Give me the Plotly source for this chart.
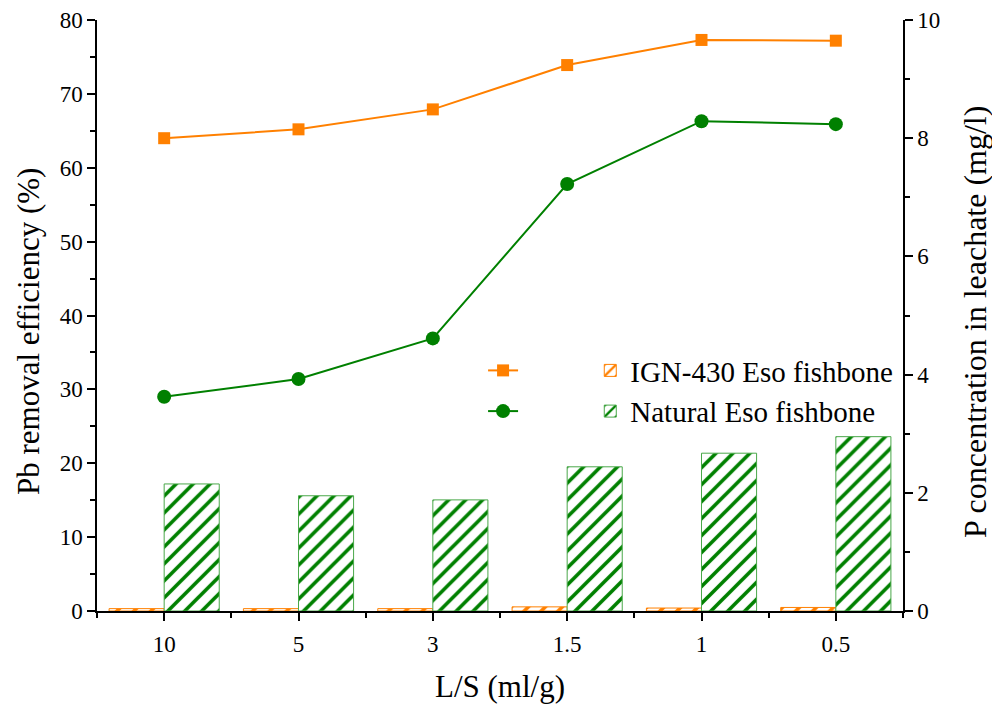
import plotly.graph_objects as go

categories = ["10", "5", "3", "1.5", "1", "0.5"]
pb_ign = [64.0, 65.2, 67.9, 73.9, 77.3, 77.2]
pb_nat = [29.0, 31.4, 36.9, 57.8, 66.3, 65.9]
p_ign = [0.04, 0.04, 0.04, 0.07, 0.05, 0.06]
p_nat = [2.15, 1.95, 1.88, 2.44, 2.67, 2.95]

ORANGE = "#FF8000"
GREEN = "#008000"
FONT = "Times New Roman, Liberation Serif, serif"
xs = list(range(len(categories)))

fig = go.Figure()

fig.add_trace(go.Bar(
    x=xs, y=p_ign, yaxis="y2", name="IGN-430 Eso fishbone", legend="legend",
    marker=dict(color="white", line=dict(color=ORANGE, width=1),
                pattern=dict(shape="/", fgcolor=ORANGE, fgopacity=1, bgcolor="white", size=12, solidity=0.3)),
))
fig.add_trace(go.Bar(
    x=xs, y=p_nat, yaxis="y2", name="Natural Eso fishbone", legend="legend",
    marker=dict(color="white", line=dict(color="#4aa84a", width=1),
                pattern=dict(shape="/", fgcolor=GREEN, fgopacity=1, bgcolor="white", size=12, solidity=0.3)),
))
fig.add_trace(go.Scatter(
    x=xs, y=pb_ign, mode="lines+markers", name=" ", legend="legend2",
    line=dict(color=ORANGE, width=2), marker=dict(symbol="square", size=12, color=ORANGE),
))
fig.add_trace(go.Scatter(
    x=xs, y=pb_nat, mode="lines+markers", name="  ", legend="legend2",
    line=dict(color=GREEN, width=2), marker=dict(symbol="circle", size=14, color=GREEN),
))

axis_common = dict(showgrid=False, zeroline=False, showline=True, linecolor="black", linewidth=1.5,
                   ticks="outside", ticklen=8, tickwidth=1.5, tickcolor="black", automargin=False,
                   tickfont=dict(family=FONT, size=23, color="black"))
minor_common = dict(ticks="outside", ticklen=5, tickwidth=1.5, tickcolor="black")

fig.update_layout(
    width=992, height=704,
    margin=dict(l=97, r=89, t=20, b=93),
    paper_bgcolor="white", plot_bgcolor="white",
    barmode="group", bargap=0.18, bargroupgap=0,
    font=dict(family=FONT, color="black"),
    xaxis=dict(**axis_common, range=[-0.5, 5.5], tickvals=xs, ticktext=categories, ticklabelstandoff=4,
               title=dict(text="L/S (ml/g)", font=dict(family=FONT, size=31), standoff=22),
               minor=dict(tickvals=[i + 0.5 for i in range(-1, 6)], **minor_common)),
    yaxis=dict(**axis_common, range=[0, 80], tickvals=list(range(0, 81, 10)),
               minor=dict(tickvals=list(range(5, 80, 10)), **minor_common)),
    yaxis2=dict(**axis_common, range=[0, 10], tickvals=list(range(0, 11, 2)), overlaying="y", side="right",
                minor=dict(tickvals=list(range(1, 10, 2)), **minor_common)),
    legend=dict(x=0.612, y=0.45, xanchor="left", yanchor="top", bgcolor="rgba(0,0,0,0)",
                font=dict(family=FONT, size=29, color="black"), traceorder="normal"),
    legend2=dict(x=0.479, y=0.45, xanchor="left", yanchor="top", bgcolor="rgba(0,0,0,0)",
                 font=dict(family=FONT, size=29, color="black"), traceorder="normal"),
    annotations=[
        dict(text="Pb removal efficiency (%)", xref="paper", yref="paper",
             x=(28 - 97) / 806, y=(611 - 332) / 591, xanchor="center", yanchor="middle",
             textangle=-90, showarrow=False, font=dict(family=FONT, size=31, color="black")),
        dict(text="P concentration in leachate (mg/l)", xref="paper", yref="paper",
             x=(975 - 97) / 806, y=(611 - 322) / 591, xanchor="center", yanchor="middle",
             textangle=-90, showarrow=False, font=dict(family=FONT, size=32, color="black")),
    ],
)

fig.write_html("out.html")
